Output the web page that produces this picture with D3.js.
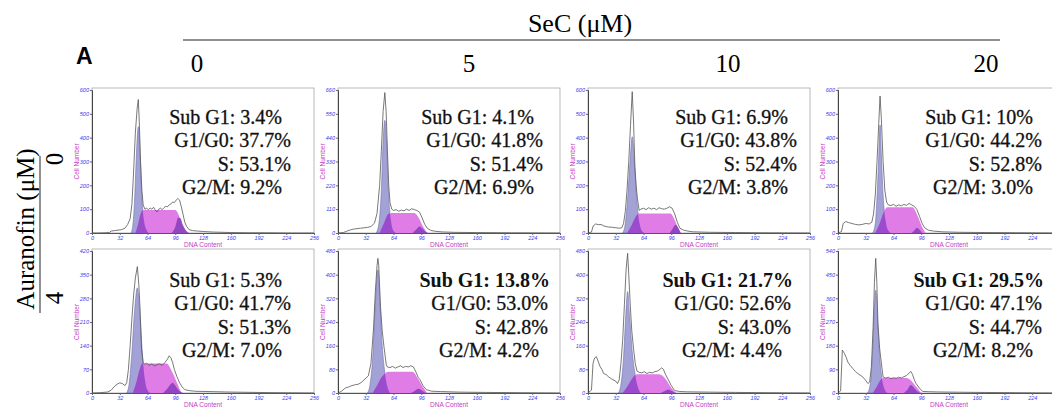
<!DOCTYPE html>
<html>
<head>
<meta charset="utf-8">
<script src="https://cdn.jsdelivr.net/npm/d3@7"></script>
<style>
  body { margin: 0; background: #fff; }
  .tick text { font-family: "Liberation Sans", sans-serif; font-style: italic; fill: #3c3cf0; }
</style>
</head>
<body>
<svg id="chart" width="1052" height="413"></svg>
<script>
// ---- data ----
var secLevels = ["0", "5", "10", "20"];
var aurLevels = ["0", "4"];

var subG1 = [["3.4%", "4.1%", "6.9%", "10%"], ["5.3%", "13.8%", "21.7%", "29.5%"]];
var g1g0 = [["37.7%", "41.8%", "43.8%", "44.2%"], ["41.7%", "53.0%", "52.6%", "47.1%"]];
var sPhase = [["53.1%", "51.4%", "52.4%", "52.8%"], ["51.3%", "42.8%", "43.0%", "44.7%"]];
var g2m = [["9.2%", "6.9%", "3.8%", "3.0%"], ["7.0%", "4.2%", "4.4%", "8.2%"]];
var boldSub = [[false, false, false, false], [false, true, true, true]];

var dnaTicks = [0, 32, 64, 96, 128, 160, 192, 224, 256];
var yMax = [[600, 660, 600, 600], [420, 480, 480, 540]];

// raw histograms [DNA content, cell number]
var raw00 = [[0,0],[8,0],[16,1],[20,2],[22,8],[26,10],[30,12],[34,14],[38,20],[41,35],[44,60],[46,120],[48,260],[50,420],[52,520],[53.4,560],[54.5,470],[56,300],[57.5,180],[59,118],[61,100],[63,104],[65,98],[67,105],[69,100],[71,108],[73,96],[75,88],[77,100],[79,104],[81,98],[83,106],[85,112],[87,110],[89,118],[91,122],[93,130],[95,128],[97,138],[99,145],[101,138],[103,110],[105,78],[107,45],[109,28],[112,14],[116,10],[122,8],[130,6],[140,4],[150,3],[160,2],[180,1],[200,1],[230,0],[256,0]];
var raw01 = [[0,0],[6,2],[10,8],[14,14],[18,18],[22,20],[26,22],[30,24],[34,26],[38,30],[42,45],[45,90],[48,220],[50,380],[52,560],[54,648],[55.5,560],[57,380],[58.5,220],[60,140],[62,110],[64,104],[67,108],[70,100],[73,106],[76,102],[79,110],[82,104],[85,112],[88,108],[91,104],[94,96],[97,70],[100,40],[103,22],[107,12],[112,8],[120,5],[135,3],[160,2],[200,1],[256,0]];
var raw02 = [[0,0],[4,4],[6,30],[9,38],[12,35],[15,36],[18,30],[21,27],[24,25],[28,24],[32,22],[36,20],[39,22],[41,40],[43,90],[45,180],[47,300],[49,450],[51,593],[52.5,470],[54,285],[55.5,200],[57,145],[59,95],[61,100],[64,104],[67,98],[70,106],[73,100],[76,104],[79,98],[82,106],[85,102],[88,100],[91,104],[94,110],[97,104],[100,80],[103,45],[106,20],[110,12],[115,8],[121,5],[140,3],[170,2],[200,1],[256,0]];
var raw03 = [[0,0],[4,6],[6,40],[9,48],[12,44],[16,40],[20,36],[24,34],[28,36],[32,40],[36,38],[39,45],[41,80],[43,160],[45,300],[47,460],[48.5,575],[50,480],[52,300],[54,180],[56,130],[58,118],[61,115],[64,120],[67,112],[70,118],[73,114],[76,120],[79,116],[82,124],[85,118],[88,112],[91,98],[94,70],[97,40],[100,22],[104,12],[110,8],[120,5],[140,3],[170,2],[256,0]];
var raw10 = [[0,0],[10,1],[18,3],[22,8],[26,20],[29,26],[32,30],[35,28],[38,22],[40,30],[42,70],[44,140],[46,220],[48,290],[50,340],[52.3,374],[54,320],[55.3,255],[57.2,128],[59,89],[61,85],[63,88],[66,82],[69,86],[72,80],[75,84],[78,86],[81,82],[84,90],[87,100],[89,110],[91,104],[93,90],[95,69],[98,48],[101,30],[104,18],[107,10],[112,7],[120,5],[140,4],[155,3],[180,2],[210,1],[256,0]];
var raw11 = [[0,0],[4,6],[8.5,17],[12,20],[16,25],[20,28],[23.7,30],[27,36],[31,47],[35,58],[38,100],[41,220],[43,340],[45,430],[46,455],[47,430],[49,292],[51,210],[53,157],[55.7,95],[57,88],[60,86],[63,90],[66,84],[69,88],[72,92],[75,86],[78,90],[81,88],[84,92],[87,88],[90,70],[92.6,52],[94.6,45],[98,25],[102,11],[108,6],[118,5],[140,3],[170,2],[210,1],[256,0]];
var raw12 = [[0,0],[4,10],[5.8,100],[7.5,118],[9.6,123],[12,105],[14,89],[16,80],[18,66],[21,62],[24,54],[27,48],[30,43],[32,40],[34,32],[36,45],[38,100],[40,180],[42,300],[44,420],[45.7,472],[47,400],[48.8,293],[50.5,210],[52.6,147],[54.5,100],[56.5,74],[59,70],[62,68],[65,72],[68,66],[71,70],[74,68],[77,72],[80,74],[83,80],[85,85],[87,80],[89,65],[92.6,45],[96,25],[100,8],[106,5],[115,4],[140,3],[170,2],[210,1],[256,0]];
var raw13 = [[0,0],[3,8],[5,163],[7.5,150],[9.5,135],[11.3,118],[14,105],[17,93],[20,82],[22.8,74],[25.5,68],[28.6,61],[31.5,50],[34.4,36],[36.5,42],[38.5,100],[40.5,250],[42,420],[43.5,512],[44.8,420],[46,265],[48,170],[50,114],[52,61],[55,57],[58,60],[61,55],[64,58],[67,56],[70,60],[73,57],[76,62],[79,66],[82,76],[84,82],[86,70],[88,50],[90,36],[94,18],[97.6,6],[104,5],[115,4],[140,3],[170,2],[210,1],[256,0]];

// fitted G1/G0 peaks
var g1_00 = [[45,0],[47,30],[49,130],[51,310],[53.4,446],[55.5,320],[57.5,150],[60,50],[63,12],[66,0]];
var g1_01 = [[44,0],[47,40],[50,200],[52,420],[54,520],[56,420],[58,200],[61,60],[64,10],[67,0]];
var g1_02 = [[40,0],[43,40],[46,160],[48.5,300],[51,404],[53.5,300],[56,150],[59,50],[62,10],[65,0]];
var g1_03 = [[40,0],[43,40],[45,150],[47,320],[48.5,453],[50,330],[52,160],[55,50],[58,10],[61,0]];
var g1_10 = [[40,0],[43,30],[46,120],[49,240],[52.3,311],[55,240],[58,120],[61,40],[64,8],[67,0]];
var g1_11 = [[34,0],[37,30],[40,120],[43,300],[46,416],[48.5,300],[51,160],[54,70],[57,20],[60,0]];
var g1_12 = [[35,0],[38,30],[41,120],[43.5,260],[45.7,343],[48,260],[51,140],[54.5,60],[58,15],[61,0]];
var g1_13 = [[34,0],[37,30],[39.5,130],[41.5,290],[43.5,391],[45.5,290],[48,140],[51,50],[54,12],[57,0]];

// fitted S phase
var s_00 = [[50,0],[53,35],[56,80],[59,97],[96,97],[100,75],[104,30],[108,0]];
var s_01 = [[48,0],[53,45],[58,88],[62,92],[88,92],[93,70],[98,30],[103,0]];
var s_02 = [[45,0],[50,30],[55,68],[59,82],[95,82],[100,55],[104,20],[107,0]];
var s_03 = [[43,0],[48,40],[53,90],[57,108],[86,108],[92,70],[97,25],[101,0]];
var s_10 = [[47,0],[51,30],[55,70],[58,87],[86,87],[92,65],[98,30],[103,0]];
var s_11 = [[40,0],[45,25],[50,52],[55,68],[58,72],[86,72],[92,50],[98,20],[103,0]];
var s_12 = [[40,0],[45,20],[50,45],[54,60],[57,63],[82,63],[90,45],[96,18],[102,0]];
var s_13 = [[40,0],[44,20],[48,45],[52,57],[79,57],[85,45],[90,25],[96,0]];

// fitted G2/M peaks
var g2_00 = [[92,0],[96,25],[99.5,65],[102,62],[105,32],[109,8],[112,0]];
var g2_01 = [[86,0],[90,15],[94,30],[97,22],[101,6],[104,0]];
var g2_02 = [[94,0],[97,15],[101,35],[104,22],[107,0]];
var g2_03 = [[85,0],[88,10],[91,22],[94,14],[97,0]];
var g2_10 = [[82,0],[86,10],[90,24],[93,30],[96,22],[100,8],[105,0]];
var g2_11 = [[84,0],[88,6],[92.6,14],[97,8],[101,0]];
var g2_12 = [[84,0],[88,6],[92.6,12],[97,6],[101,0]];
var g2_13 = [[76,0],[80,12],[84,30],[87,22],[91,8],[95,0]];

var rawData = [[raw00, raw01, raw02, raw03], [raw10, raw11, raw12, raw13]];
var g1Data = [[g1_00, g1_01, g1_02, g1_03], [g1_10, g1_11, g1_12, g1_13]];
var sData = [[s_00, s_01, s_02, s_03], [s_10, s_11, s_12, s_13]];
var g2Data = [[g2_00, g2_01, g2_02, g2_03], [g2_10, g2_11, g2_12, g2_13]];

// ---- layout ----
var colX = [92, 338, 588, 838];
var rowTop = [90, 251];
var rowBase = [233, 393];
var plotW = 222;
var textRight = [[199, 205, 209, 204], [199, 210, 203, 204]];
var serif = '"Liberation Serif", "Times New Roman", serif';

var svg = d3.select('#chart');
svg.append('rect').attr('width', 1052).attr('height', 413).attr('fill', '#fff');

// header
svg.append('text')
    .attr('x', 580).attr('y', 32)
    .attr('text-anchor', 'middle')
    .attr('font-family', serif).attr('font-size', 26)
    .text('SeC (\u03bcM)');
svg.append('line')
    .attr('x1', 183).attr('x2', 1000).attr('y1', 40).attr('y2', 40)
    .attr('stroke', '#6a6a6a').attr('stroke-width', 1.5);

var colCenter = [197, 469, 728, 986];
svg.selectAll('.collab')
    .data(secLevels)
    .enter()
    .append('text')
    .attr('class', 'collab')
    .attr('x', function (d, i) { return colCenter[i]; })
    .attr('y', 72)
    .attr('text-anchor', 'middle')
    .attr('font-family', serif).attr('font-size', 25)
    .text(function (d) { return d; });

svg.append('text')
    .attr('x', 76).attr('y', 64)
    .attr('font-family', '"Liberation Sans", Arial, sans-serif')
    .attr('font-weight', 'bold').attr('font-size', 23)
    .text('A');

// left label
svg.append('text')
    .attr('transform', 'translate(34,229) rotate(-90)')
    .attr('text-anchor', 'middle')
    .attr('font-family', serif).attr('font-size', 25)
    .text('Auranofin (\u03bcM)');
svg.append('line')
    .attr('x1', 40).attr('x2', 40).attr('y1', 156).attr('y2', 313)
    .attr('stroke', '#555').attr('stroke-width', 1.3);
var rowLabelY = [159, 298];
svg.selectAll('.rowlab')
    .data(aurLevels)
    .enter()
    .append('text')
    .attr('class', 'rowlab')
    .attr('transform', function (d, i) { return 'translate(63,' + rowLabelY[i] + ') rotate(-90)'; })
    .attr('text-anchor', 'middle')
    .attr('font-family', serif).attr('font-size', 25)
    .text(function (d) { return d; });

// ---- panels ----
var x = d3.scaleLinear().domain([0, 256]).range([0, plotW]);

[0, 1].forEach(function (r) {
    [0, 1, 2, 3].forEach(function (c) {
        var top = rowTop[r], base = rowBase[r];
        var y = d3.scaleLinear().domain([0, yMax[r][c]]).range([base - top, 0]);
        var g = svg.append('g').attr('transform', 'translate(' + colX[c] + ',' + top + ')');
        var id = 'p' + r + c;

        var area = d3.area()
            .x(function (d) { return x(d[0]); })
            .y0(y(0))
            .y1(function (d) { return y(d[1]); })
            .curve(d3.curveMonotoneX);

        // frame
        g.append('rect')
            .attr('x', 0).attr('y', -2)
            .attr('width', plotW).attr('height', base - top + 2)
            .attr('fill', 'none').attr('stroke', '#a8a8a8').attr('stroke-width', 0.8);

        g.append('clipPath').attr('id', 'clip' + id)
            .append('path').attr('d', area(g1Data[r][c]));

        // G1 peak
        g.append('path')
            .attr('d', area(g1Data[r][c]))
            .attr('fill', '#a2a2d6').attr('stroke', '#6f6fb0').attr('stroke-width', 0.6);
        // S phase
        g.append('path')
            .attr('d', area(sData[r][c]))
            .attr('fill', '#e07ce6');
        // overlap of S under G1
        g.append('path')
            .attr('d', area(sData[r][c]))
            .attr('clip-path', 'url(#clip' + id + ')')
            .attr('fill', '#9a4ccc');
        // G2/M peak
        g.append('path')
            .attr('d', area(g2Data[r][c]))
            .attr('fill', '#8a40be').attr('fill-opacity', 0.9);

        // raw histogram
        g.append('path')
            .datum(rawData[r][c])
            .attr('d', d3.line()
                .x(function (d) { return x(d[0]); })
                .y(function (d) { return y(d[1]); }))
            .attr('fill', 'none').attr('stroke', '#555').attr('stroke-width', 0.8);

        // axes
        var step = yMax[r][c] / 6;
        var yTicks = d3.range(0, 7).map(function (k) { return k * step; });
        var ya = g.append('g')
            .call(d3.axisLeft(y).tickValues(yTicks).tickSize(2).tickPadding(1));
        ya.selectAll('text').attr('font-size', 5.5);
        ya.select('.domain').attr('stroke', '#444');
        ya.selectAll('.tick line').attr('stroke', '#666');

        // the last column runs past the page edge, so its 256 label is not shown
        var xTicks = c === 3 ? dnaTicks.slice(0, -1) : dnaTicks;
        var xa = g.append('g')
            .attr('transform', 'translate(0,' + (base - top) + ')')
            .call(d3.axisBottom(x).tickValues(xTicks).tickSize(2).tickPadding(1));
        xa.selectAll('text').attr('font-size', 5.5);
        xa.select('.domain').attr('stroke', '#555');
        xa.selectAll('.tick line').attr('stroke', '#666');

        g.append('text')
            .attr('transform', 'translate(-13,' + ((base - top) / 2) + ') rotate(-90)')
            .attr('text-anchor', 'middle')
            .attr('font-family', '"Liberation Sans", sans-serif').attr('font-size', 6.5)
            .attr('fill', '#c13cc1')
            .text('Cell Number');
        g.append('text')
            .attr('x', plotW / 2).attr('y', base - top + 14)
            .attr('text-anchor', 'middle')
            .attr('font-family', '"Liberation Sans", sans-serif').attr('font-size', 6.5)
            .attr('fill', '#c13cc1')
            .text('DNA Content');

        // percentages
        var right = textRight[r][c];
        var by = r === 0 ? 34 : 35.7;
        var lines = [
            { t: 'Sub G1: ' + subG1[r][c], dx: boldSub[r][c] ? 2 : -9, bold: boldSub[r][c] },
            { t: 'G1/G0: ' + g1g0[r][c], dx: 0, bold: false },
            { t: 'S: ' + sPhase[r][c], dx: 0, bold: false },
            { t: 'G2/M: ' + g2m[r][c], dx: -9, bold: false }
        ];
        g.selectAll('.stat')
            .data(lines)
            .enter()
            .append('text')
            .attr('class', 'stat')
            .attr('x', function (d) { return right + d.dx; })
            .attr('y', function (d, i) { return by + i * 23.4; })
            .attr('text-anchor', 'end')
            .attr('font-family', serif).attr('font-size', 20)
            .attr('font-weight', function (d) { return d.bold ? 'bold' : 'normal'; })
            .attr('fill', '#111')
            .attr('stroke', function (d) { return d.bold ? 'none' : '#111'; })
            .attr('stroke-width', 0.3)
            .text(function (d) { return d.t; });
    });
});
</script>
</body>
</html>
